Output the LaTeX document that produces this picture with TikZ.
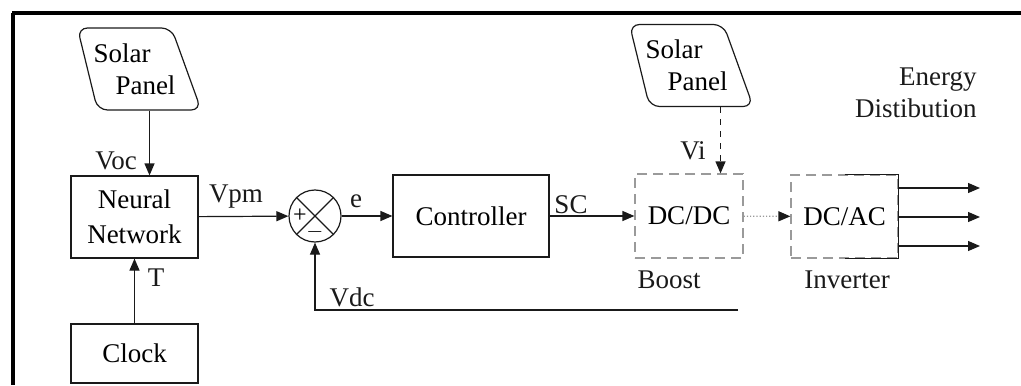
\documentclass[tikz,border=0pt]{standalone}
\usepackage{fontspec}
\setmainfont{Liberation Serif}
\usetikzlibrary{arrows.meta,positioning,shapes.geometric}
\definecolor{ink}{HTML}{1A1A1A}
\definecolor{inkdim}{HTML}{9A9A9A}
\newcommand{\dgfont}{\fontsize{13.5}{16}\selectfont}
\tikzset{
  flow/.style={-{Triangle[length=6pt,width=5pt]},line width=0.6pt,ink},
  box/.style={draw=ink,line width=0.6pt,minimum width=63.5pt,minimum height=41pt,align=center,font=\dgfont},
  faded/.style={draw=inkdim,line width=0.6pt,dash pattern=on 5pt off 3pt,minimum width=54pt,minimum height=42pt,font=\dgfont},
  panel/.style={draw=ink,line width=0.6pt,shape=trapezium,trapezium left angle=106,trapezium right angle=67,
    trapezium stretches=true,minimum width=62pt,minimum height=41pt,rounded corners=5pt,inner ysep=0pt,inner xsep=-7pt,
    align=left,font=\dgfont},
  labeltext/.style={font=\dgfont,text=ink,inner sep=0pt}
}

\begin{document}
\begin{tikzpicture}[x=0.5pt,y=-0.5pt]
\useasboundingbox (0,0) rectangle (1021,385);
\draw[line width=1.6pt] (12,13) -- (1021,13);
\draw[line width=1.6pt] (13,13) -- (13,385);

\node[panel] (sp1) at (134.5,69) {Solar\\\hspace*{11pt}Panel};
\node[box] (nn) at (134.5,217) {Neural\\[1.5pt]Network};
\node[box,minimum height=29.5pt] (clk) at (134.5,353.5) {Clock};
\node[draw=ink,circle,minimum size=26pt,inner sep=0pt,line width=0.6pt] (sum) at (315,216) {};
\node[box,minimum width=78pt] (ctrl) at (471,216) {Controller};
\node[faded] (dcdc) at (689,216) {DC/DC};
\node[panel] (sp2) at (686.5,65.5) {Solar\\\hspace*{11pt}Panel};
\node[faded,minimum width=53.5pt,minimum height=41.5pt] (dcac) at (844.5,216.5) {DC/AC};

\node[labeltext] (voc) at (116,161) {Voc};
\node[labeltext] (t) at (156,278) {T};
\node[labeltext] (vpm) at (236,197) {Vpm};
\node[labeltext] (e) at (356,201) {e};
\node[labeltext] (sc) at (571,205) {SC};
\node[labeltext] (vi) at (693,151) {Vi};
\node[labeltext] (vdc) at (352,297) {Vdc};
\node[labeltext] (boost) at (669,280) {Boost};
\node[labeltext] (inv) at (847,280) {Inverter};
\node[labeltext,align=right,anchor=east] (dist) at (977,93) {Energy\\[0pt]Distibution};
\node[font=\fontsize{12}{13}\selectfont,inner sep=0pt] (plus) at (300,216) {+};
\node[font=\fontsize{11}{12}\selectfont,inner sep=0pt] (minus) at (315,232) {$-$};

\draw[ink,line width=0.6pt] (sum.45) -- (sum.225);
\draw[ink,line width=0.6pt] (sum.135) -- (sum.315);
\draw[ink,line width=0.6pt] (dcac.north) -- (dcac.north east) -- (dcac.south east) -- (dcac.south);

\draw[flow] (sp1.bottom side) -- (sp1.bottom side |- nn.north);
\draw[flow] (clk) -- (nn);
\draw[flow] (nn) -- (sum);
\draw[flow] (sum) -- (ctrl);
\draw[flow] (ctrl) -- (dcdc);
\draw[flow,dashed] ([xshift=9.5pt]sp2.bottom side) -- ([xshift=9.5pt]sp2.bottom side |- dcdc.north);
\draw[flow,inkdim,densely dotted,-{Triangle[length=6pt,width=5pt,color=ink]}] (dcdc) -- (dcac);
\coordinate (fb) at (738,310);
\draw[flow] (fb) -- (fb -| sum) -- (sum);
\foreach \y/\n in {188/1,217/2,246/3}{
  \coordinate (out\n) at (980,\y);
  \draw[flow] (dcac.east |- out\n) -- (out\n);
}
\end{tikzpicture}
\end{document}
